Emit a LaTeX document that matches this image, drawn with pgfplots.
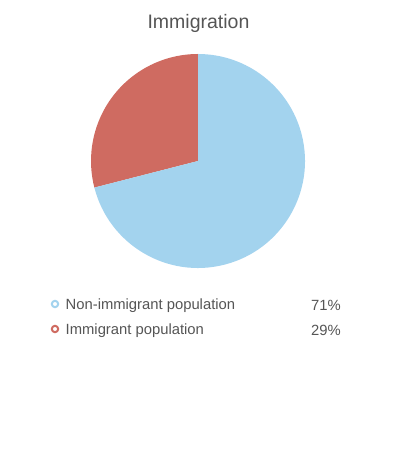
\documentclass[border=0pt]{standalone}
\usepackage{pgfplots}
\usepackage{pgfplotstable}
\pgfplotsset{compat=1.18}
\usepackage{fontspec}
\setmainfont{Liberation Sans}
\definecolor{pieblue}{HTML}{A3D3EE}
\definecolor{piered}{HTML}{CF6B61}
\definecolor{txt}{HTML}{555555}
\pgfplotstableread{
label value
Non-immigrant 71
Immigrant 29
}\pietable
\begin{document}
\begin{tikzpicture}
\pgfplotstablegetelem{0}{value}\of\pietable \let\vnon\pgfplotsretval
\pgfplotstablegetelem{1}{value}\of\pietable \let\vimm\pgfplotsretval
\pgfmathsetmacro{\aend}{90+\vimm*3.6}
\pgfmathsetmacro{\bend}{\aend+\vnon*3.6}
\begin{axis}[
  width=398bp, height=456bp, scale only axis,
  xmin=0, xmax=398, ymin=0, ymax=456,
  hide axis, clip=false,
]
\addplot[draw=none] coordinates {(0,0) (398,456)};
% immigrant slice
\fill[piered] (axis cs:198,295) -- ++(90:107bp) arc[start angle=90, end angle=\aend, radius=107bp] -- cycle;
\fill[pieblue] (axis cs:198,295) -- ++(\aend:107bp) arc[start angle=\aend, end angle=\bend, radius=107bp] -- cycle;
% title
\node[text=txt, font=\fontsize{19.5bp}{22bp}\selectfont] at (axis cs:198.5,433) {Immigration};
% legend
\draw[pieblue, line width=2bp, fill=white] (axis cs:55,152) circle[radius=3.2bp];
\draw[piered, line width=2bp, fill=white] (axis cs:55,127) circle[radius=3.2bp];
\node[anchor=west, text=txt, font=\fontsize{14.8bp}{16bp}\selectfont, inner sep=0pt] at (axis cs:65.5,150.5) {Non-immigrant population};
\node[anchor=west, text=txt, font=\fontsize{14.8bp}{16bp}\selectfont, inner sep=0pt] at (axis cs:65.5,125.5) {Immigrant population};
\node[anchor=east, text=txt, font=\fontsize{14.8bp}{16bp}\selectfont, inner sep=0pt] at (axis cs:341,150.5) {\vnon\%};
\node[anchor=east, text=txt, font=\fontsize{14.8bp}{16bp}\selectfont, inner sep=0pt] at (axis cs:341,125.5) {\vimm\%};
\end{axis}
\end{tikzpicture}
\end{document}
